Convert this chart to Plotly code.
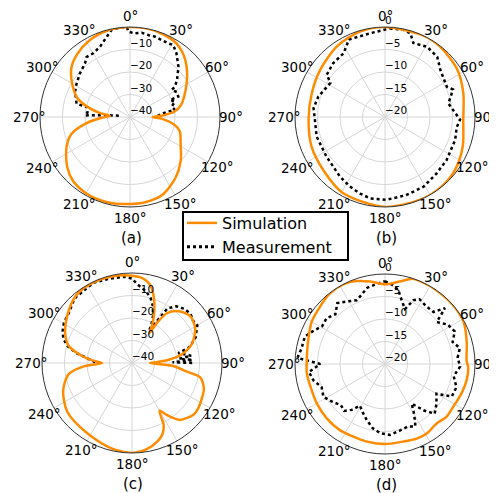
import math
import plotly.graph_objects as go

# ---------------- data (angle in degrees, clockwise from north; value in dB) -------------
# (a)
a_sim_theta = [0, 15, 30, 40, 50, 60, 70, 77, 83, 87, 90, 93, 100, 106, 120, 130, 143, 157, 170, 180,
               195, 210, 222, 232, 245, 254, 262, 268, 273, 278, 284, 290, 300, 310, 320, 332, 345, 360]
a_sim_db = [0, 0, -1.0, -3.3, -7, -11, -14.5, -16.8, -20, -25, -30, -26, -20, -17, -14, -10.5, -6.3, -2.6, -1.5, -1.3,
            -0.8, -0.9, -2.0, -4.5, -8.9, -13, -20.5, -27, -31, -26, -20, -15, -10.3, -6, -3.5, -1.5, -0.3, 0]
a_meas_theta = [277, 274, 272, 276, 283, 284, 295, 302, 311, 320, 324, 330, 337, 344, 348, 353, 358, 359,
                3, 8, 13, 17, 22, 28, 31, 36, 44, 52, 56, 57, 62, 67, 67, 71, 76, 81, 82, 86, 88]
a_meas_db = [-35, -28, -20, -21, -20.3, -15.5, -13.1, -12, -10.5, -8.9, -7.1, -7.3, -6, -2.8, -0.5, 0, 0, -2.1,
             -2.8, -2.2, -2.7, -2.6, -3, -3.1, -2.7, -4.9, -9, -13.5, -16, -17.9, -16.4, -16.7, -20.7, -18.9, -20.9,
             -19.8, -23.5, -26.7, -28]

# (b)
b_sim_theta = [0, 25, 38, 56, 73, 92, 111, 127, 140, 156, 180, 209, 229, 248, 268, 288, 306, 326, 344, 360]
b_sim_db = [0, 0, -0.15, -0.75, -1.8, -2.6, -1.5, -0.5, -0.1, 0, 0, -0.7, -1.9, -2.4, -3, -2.9, -2.2, -1, -0.2, 0]
b_meas_theta = [3, 12, 17, 21, 31, 41, 50, 64, 68, 78, 92, 98, 108, 125, 138, 151, 165, 179, 190, 198, 207,
                217, 236, 254, 268, 277, 287, 302, 306, 316, 327, 335, 350, 363]
b_meas_db = [-0.3, -0.2, -0.6, -2.4, -1.8, -2.3, -3.9, -4.7, -3.7, -5.6, -3.3, -3.9, -3.6, -3.3, -3.0, -2.3, -2.0,
             -1.6, -1.6, -2.1, -2.7, -3.4, -4.3, -4.2, -4.4, -4.0, -4.5, -5.7, -4.0, -3.4, -3.1, -1.0, -1.1, -0.3]

# (c)
c_sim_theta = [0, 7, 13, 18, 24, 28, 30.5, 32, 35, 42, 51, 61, 72, 80, 85, 88, 90, 94, 99, 102, 110, 117, 125,
               130, 140, 146, 150, 153, 157, 162, 170, 180, 194, 213, 233, 248, 260, 266, 270, 274, 278, 285,
               294, 306, 320, 333, 347, 360]
c_sim_db = [-1.2, -2, -4.3, -8.8, -15.8, -21, -24.5, -19, -13, -9, -6.8, -7.9, -11.9, -17.5, -23.6, -29, -32, -22,
            -15.3, -8.9, -6, -5.2, -4.3, -4.3, -7, -12, -15.5, -9, -5.5, -3.4, -1.2, 0, -1, -3, -4, -7, -11.4,
            -18.5, -26.7, -22, -17.6, -10.9, -7.5, -4.4, -1.1, -0.3, -0.5, -1.2]
c_meas_theta = [271, 275, 280, 285, 290, 295, 300, 305, 310, 315, 320, 325, 330, 335, 340, 345, 350, 355, 360,
                364, 368, 372, 376, 380, 384, 387, 388, 390, 393, 398, 404, 410, 415, 420, 425, 428, 432, 435,
                438, 440, 443, 445, 447, 449, 450]
c_meas_db = [-23.7, -21, -15, -10, -7.5, -6, -5, -4.5, -4, -2.5, -1.5, -1.5, -1, -0.5, -1, -1.2, -1.5, -1.5, -2.5,
             -5, -6.5, -8, -10, -13, -17, -21, -24, -20, -11, -8, -6.5, -6, -7, -6.5, -8.5, -9.5, -12, -14,
             -19, -17, -13.5, -19, -13, -22, -12.6]

# (d)
d_sim_theta = [0, 10, 18, 25, 34, 49, 62, 75, 88, 92, 101, 111, 122, 131, 139, 149, 157, 167, 180, 193, 204,
               214, 227, 240, 251, 263, 272, 286, 300, 308, 322, 333, 341, 350, 360]
d_sim_db = [-2.3, -1.4, -0.1, 0, 0, 0, -0.2, -1.2, -1.85, -1.5, -1.5, -1.8, -2.1, -2, -2.5, -2, -2, -2.3, -2.2,
            -2.3, -2.4, -2.2, -2.3, -2.5, -2.7, -2.5, -2.6, -2.2, -1.2, -0.9, -0.1, 0, -0.5, -1.4, -2.3]
d_meas_theta = [0, 5, 10, 15, 20, 24, 28, 35, 43, 47, 51, 58, 65, 72, 78, 85, 92, 100, 108, 116, 120, 128,
                135, 140, 146, 150, 154, 160, 168, 176, 184, 191, 198, 205, 211, 216, 221, 227, 235, 242, 250,
                257, 264, 270, 274, 280, 289, 295, 301, 308, 315, 322, 330, 336, 341, 347, 353, 360]
d_meas_db = [-1.6, -2.3, -3.2, -5.5, -7, -4.5, -3.7, -4.2, -4.2, -1.8, -5.2, -3.5, -2.9, -4.2, -3, -3.8, -3.3,
             -4.5, -3.3, -3.5, -6.8, -5.5, -4.4, -6.5, -9.4, -7, -4.6, -5.2, -4.8, -4.2, -4.6, -5.5, -6.9, -8.2,
             -9.2, -7.4, -6.2, -6.6, -5.5, -4.5, -5, -3.7, -3, -5.6, -0.5, -1.1, -1.2, -2.5, -3.7, -3.5, -4.4,
             -2.8, -3.9, -4.5, -3.8, -2.6, -2.2, -1.6]

tick_angles = [0, 30, 60, 90, 120, 150, 180, 210, 240, 270, 300, 330]
tick_text = [f"{t}°" for t in tick_angles]
r_ticks_40 = [-40, -30, -20, -10]
r_ticks_20 = [-20, -15, -10, -5, 0]
panel_labels = ["(a)", "(b)", "(c)", "(d)"]

# layout (pixel positions in the 497x493 page): centre x, centre y, radius
panel_geom = [(130, 117, 90), (385, 117, 90), (132, 363, 90), (385, 364, 90)]

panels = [
    ("polar", a_sim_theta, a_sim_db, a_meas_theta, a_meas_db, [-40, 0], r_ticks_40),
    ("polar2", b_sim_theta, b_sim_db, b_meas_theta, b_meas_db, [-20, 0], r_ticks_20),
    ("polar3", c_sim_theta, c_sim_db, c_meas_theta, c_meas_db, [-40, 0], r_ticks_40),
    ("polar4", d_sim_theta, d_sim_db, d_meas_theta, d_meas_db, [-20, 0], r_ticks_20),
]

ORANGE = "#FF8C00"
FONT = "DejaVu Sans"
LABEL_GAP = 11   # px between outer circle and angular tick-label centre

# the page body has an 8px margin: the figure is sized to fit the window and
# reference pixel positions are shifted by that margin
OFF = 8
W, H = 497 - OFF, 493 - OFF


def fx(px):
    return (px - OFF) / W


def fy(py):
    return 1 - (py - OFF) / H


def minus(v):
    return str(v).replace("-", "\u2212")


fig = go.Figure()
for i, (sp, st, sr, mt, mr, rng, rticks) in enumerate(panels):
    fig.add_trace(go.Scatterpolar(theta=mt, r=mr, subplot=sp, mode="lines",
                                  line=dict(color="black", width=2.5, dash="dot"),
                                  name="Measurement", showlegend=False, hoverinfo="skip"))
    fig.add_trace(go.Scatterpolar(theta=st, r=sr, subplot=sp, mode="lines",
                                  line=dict(color=ORANGE, width=2.5, shape="spline", smoothing=0.8),
                                  name="Simulation", showlegend=(i == 0), legendrank=1))
    # radial tick labels along the 0° spoke
    fig.add_trace(go.Scatterpolar(theta=[0] * len(rticks), r=rticks, subplot=sp,
                                  mode="text", text=[minus(v) for v in rticks], textposition="top right",
                                  textfont=dict(family=FONT, size=10.5, color="black"),
                                  cliponaxis=False, showlegend=False, hoverinfo="skip"))
# legend entry for measurement
fig.add_trace(go.Scatterpolar(theta=[None], r=[None], subplot="polar", mode="lines",
                              line=dict(color="black", width=3, dash="dot"),
                              name="Measurement", showlegend=True, legendrank=2))


def polar_layout(cx, cy, rad, rng, tickvals):
    return dict(
        domain=dict(x=[fx(cx - rad), fx(cx + rad)], y=[fy(cy + rad), fy(cy - rad)]),
        bgcolor="white",
        angularaxis=dict(direction="clockwise", rotation=90, tickmode="array",
                         tickvals=tick_angles, showticklabels=False,
                         showline=True, linecolor="#333333", linewidth=1,
                         gridcolor="#d6d6d6", gridwidth=1, ticks=""),
        radialaxis=dict(range=rng, tickmode="array", tickvals=tickvals, showticklabels=False,
                        showline=False, gridcolor="#d6d6d6", gridwidth=1,
                        angle=90, ticks=""),
    )


polars = {}
for (sp, _, _, _, _, rng, rticks), (cx, cy, rad) in zip(panels, panel_geom):
    polars[sp] = polar_layout(cx, cy, rad, rng, rticks)

fig.update_layout(
    width=W, height=H,
    margin=dict(l=0, r=0, t=0, b=0),
    paper_bgcolor="white", plot_bgcolor="white",
    font=dict(family=FONT, color="black"),
    **polars,
    legend=dict(x=fx(182), y=fy(206), xanchor="left", yanchor="top",
                bgcolor="rgba(0,0,0,0)", borderwidth=0,
                font=dict(family=FONT, size=16, color="black"),
                tracegroupgap=0, itemwidth=30),
    showlegend=True,
    shapes=[dict(type="rect", xref="paper", yref="paper", layer="above",
                 x0=fx(183), x1=fx(348), y0=fy(260), y1=fy(212),
                 line=dict(color="black", width=2), fillcolor="white")],
)

# angular tick labels, centred just outside each outer circle (matplotlib style)
for (cx, cy, rad) in panel_geom:
    rl = rad + LABEL_GAP
    for ang, txt in zip(tick_angles, tick_text):
        t = math.radians(ang)
        fig.add_annotation(text=txt, x=fx(cx + rl * math.sin(t)), y=fy(cy - rl * math.cos(t)),
                           xref="paper", yref="paper", showarrow=False,
                           font=dict(family=FONT, size=13.5, color="black"),
                           xanchor="center", yanchor="middle")

# panel captions
for txt, (cx, cy, rad) in zip(panel_labels, panel_geom):
    fig.add_annotation(text=txt, x=fx(cx + 1), y=fy(cy + rad + 31), xref="paper", yref="paper",
                       showarrow=False, font=dict(family=FONT, size=15, color="black"),
                       xanchor="center", yanchor="middle")

fig.write_html("out.html")
